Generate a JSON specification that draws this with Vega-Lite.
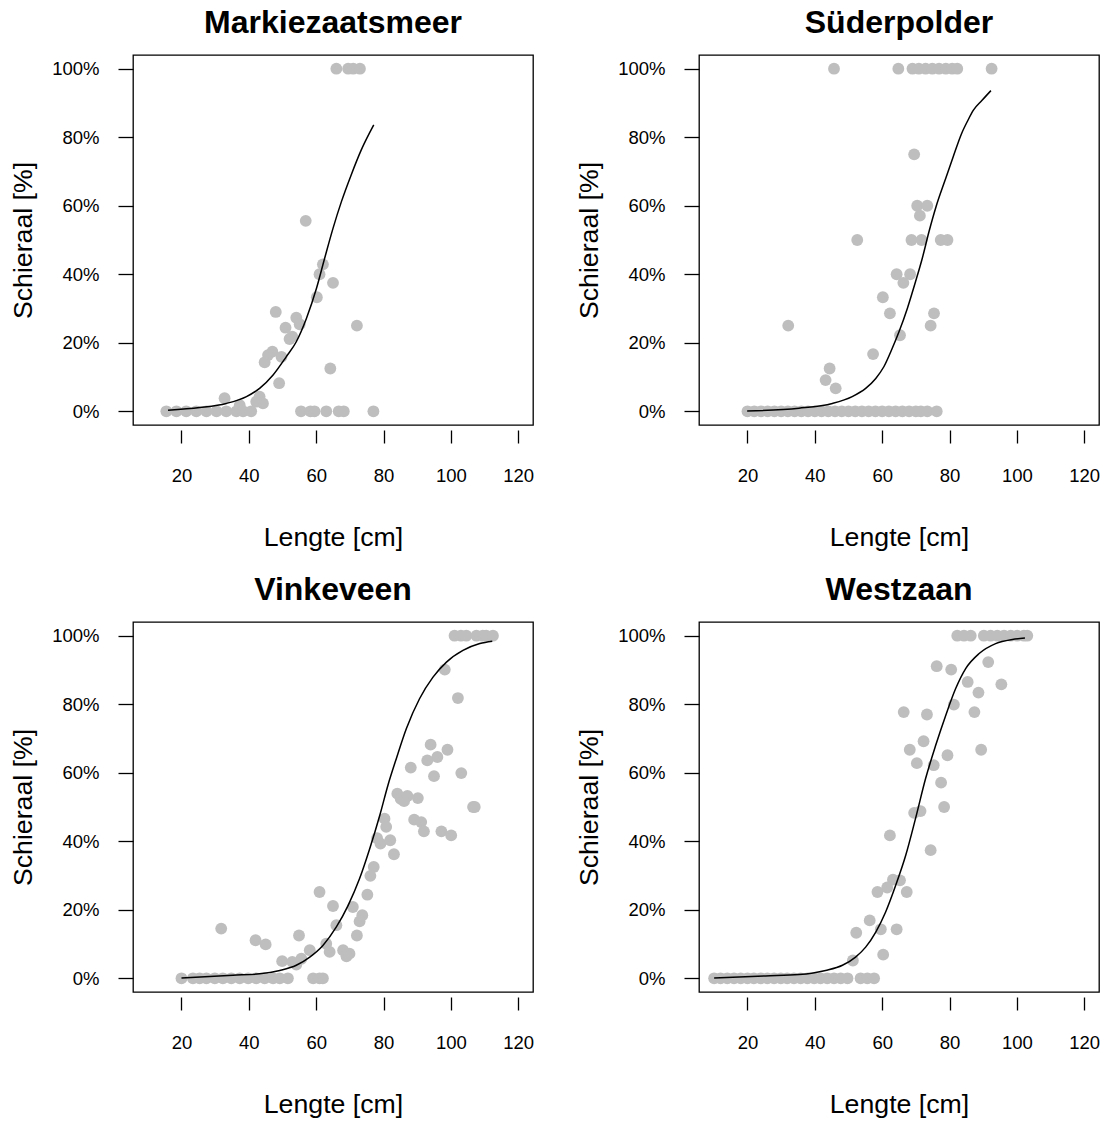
{
  "$schema": "https://vega.github.io/schema/vega-lite/v6.json",
  "background": "white",
  "padding": {"left": 10, "top": 6, "right": 0, "bottom": 0},
  "columns": 2,
  "spacing": {"row": 197, "column": 166},
  "bounds": "flush",
  "datasets": {
    "mk_obs": [
      {"len": 66, "pct": 100}, {"len": 69.5, "pct": 100}, {"len": 71, "pct": 100}, {"len": 73, "pct": 100},
      {"len": 56.9, "pct": 55.6}, {"len": 62, "pct": 42.9}, {"len": 61, "pct": 40}, {"len": 65, "pct": 37.5},
      {"len": 60.2, "pct": 33.3}, {"len": 48, "pct": 29}, {"len": 54.1, "pct": 27.3}, {"len": 55.1, "pct": 25.4},
      {"len": 50.9, "pct": 24.4}, {"len": 72.1, "pct": 25}, {"len": 52.1, "pct": 21.1}, {"len": 52.9, "pct": 21.8},
      {"len": 47, "pct": 17.4}, {"len": 45.7, "pct": 16.4}, {"len": 44.7, "pct": 14.3}, {"len": 49.7, "pct": 15.9},
      {"len": 64.2, "pct": 12.5}, {"len": 49, "pct": 8.2}, {"len": 32.8, "pct": 3.8}, {"len": 43.2, "pct": 4.3},
      {"len": 44.2, "pct": 2.3}, {"len": 42.2, "pct": 2.8}, {"len": 37.3, "pct": 1.8},
      {"len": 15.5, "pct": 0}, {"len": 18.5, "pct": 0}, {"len": 21.4, "pct": 0}, {"len": 24.4, "pct": 0},
      {"len": 27.4, "pct": 0}, {"len": 30.4, "pct": 0}, {"len": 33.3, "pct": 0}, {"len": 36.3, "pct": 0},
      {"len": 38.3, "pct": 0}, {"len": 40.7, "pct": 0}, {"len": 55.5, "pct": 0}, {"len": 58.3, "pct": 0},
      {"len": 59.5, "pct": 0}, {"len": 63, "pct": 0}, {"len": 66.7, "pct": 0}, {"len": 68.2, "pct": 0}, {"len": 77, "pct": 0}
    ],
    "mk_fit": [
      {"len": 16, "pct": 0.3}, {"len": 25.4, "pct": 1.1}, {"len": 33.3, "pct": 2.3}, {"len": 39.3, "pct": 4.3},
      {"len": 43.2, "pct": 6.7}, {"len": 47.2, "pct": 10.6}, {"len": 51.1, "pct": 15.9}, {"len": 54.1, "pct": 20.3},
      {"len": 57.1, "pct": 27.1}, {"len": 60.1, "pct": 35.9}, {"len": 62.5, "pct": 44.6}, {"len": 65, "pct": 53.4},
      {"len": 67.5, "pct": 61.2}, {"len": 70.4, "pct": 69}, {"len": 73.4, "pct": 76.3}, {"len": 77.1, "pct": 83.6}
    ],
    "sd_obs": [
      {"len": 45.7, "pct": 100}, {"len": 64.8, "pct": 100}, {"len": 69, "pct": 100}, {"len": 70.9, "pct": 100},
      {"len": 72.9, "pct": 100}, {"len": 74.9, "pct": 100}, {"len": 76.9, "pct": 100}, {"len": 78.9, "pct": 100},
      {"len": 80.8, "pct": 100}, {"len": 82.3, "pct": 100}, {"len": 92.5, "pct": 100},
      {"len": 69.5, "pct": 75}, {"len": 70.4, "pct": 60}, {"len": 73.4, "pct": 60}, {"len": 71.2, "pct": 57.1},
      {"len": 52.6, "pct": 50}, {"len": 68.7, "pct": 50}, {"len": 71.7, "pct": 50}, {"len": 77.4, "pct": 50},
      {"len": 79.4, "pct": 50}, {"len": 64.3, "pct": 40}, {"len": 68.3, "pct": 40}, {"len": 66.3, "pct": 37.5},
      {"len": 60.2, "pct": 33.3}, {"len": 62.3, "pct": 28.6}, {"len": 75.4, "pct": 28.6}, {"len": 74.4, "pct": 25},
      {"len": 32.1, "pct": 25}, {"len": 65.3, "pct": 22.2}, {"len": 57.3, "pct": 16.7}, {"len": 44.4, "pct": 12.5},
      {"len": 43.2, "pct": 9.1}, {"len": 46.2, "pct": 6.7},
      {"len": 20, "pct": 0}, {"len": 22, "pct": 0}, {"len": 24, "pct": 0}, {"len": 26, "pct": 0}, {"len": 28, "pct": 0},
      {"len": 30, "pct": 0}, {"len": 32, "pct": 0}, {"len": 34, "pct": 0}, {"len": 36, "pct": 0}, {"len": 38, "pct": 0},
      {"len": 40, "pct": 0}, {"len": 42, "pct": 0}, {"len": 44, "pct": 0}, {"len": 46, "pct": 0}, {"len": 48, "pct": 0},
      {"len": 50, "pct": 0}, {"len": 52, "pct": 0}, {"len": 54, "pct": 0}, {"len": 56, "pct": 0}, {"len": 58, "pct": 0},
      {"len": 60, "pct": 0}, {"len": 62, "pct": 0}, {"len": 64, "pct": 0}, {"len": 66, "pct": 0}, {"len": 68, "pct": 0},
      {"len": 70, "pct": 0}, {"len": 71.5, "pct": 0}, {"len": 73.4, "pct": 0}, {"len": 76.2, "pct": 0}
    ],
    "sd_fit": [
      {"len": 19.9, "pct": 0.1}, {"len": 35.3, "pct": 0.9}, {"len": 45.2, "pct": 2.3}, {"len": 51.1, "pct": 4.3},
      {"len": 55.1, "pct": 6.7}, {"len": 58.1, "pct": 9.6}, {"len": 60.5, "pct": 13}, {"len": 63, "pct": 18.4},
      {"len": 65, "pct": 23.2}, {"len": 67.5, "pct": 30.1}, {"len": 69.9, "pct": 37.8}, {"len": 71.9, "pct": 44.6},
      {"len": 73.9, "pct": 52.4}, {"len": 76, "pct": 59.7}, {"len": 78.7, "pct": 67.5}, {"len": 81.1, "pct": 74.3},
      {"len": 83.6, "pct": 81.1}, {"len": 85.4, "pct": 84.8}, {"len": 87.1, "pct": 87.9}, {"len": 89.6, "pct": 90.7},
      {"len": 92.3, "pct": 93.6}
    ],
    "vk_obs": [
      {"len": 101.1, "pct": 100}, {"len": 103, "pct": 100}, {"len": 104.6, "pct": 100}, {"len": 107.6, "pct": 100},
      {"len": 109.5, "pct": 100}, {"len": 110.5, "pct": 100}, {"len": 112.5, "pct": 100},
      {"len": 98.2, "pct": 90.1}, {"len": 102.1, "pct": 81.8}, {"len": 94, "pct": 68.2}, {"len": 99, "pct": 66.7},
      {"len": 96, "pct": 64.6}, {"len": 93, "pct": 63.6}, {"len": 88.1, "pct": 61.5}, {"len": 95, "pct": 59},
      {"len": 103.1, "pct": 59.9}, {"len": 84.1, "pct": 53.9}, {"len": 85.1, "pct": 52.4}, {"len": 87.1, "pct": 53.2},
      {"len": 90.2, "pct": 52.6}, {"len": 86.1, "pct": 51.7}, {"len": 106.6, "pct": 50}, {"len": 107.1, "pct": 50},
      {"len": 89.1, "pct": 46.3}, {"len": 91.2, "pct": 45.6}, {"len": 80.3, "pct": 46.6}, {"len": 80.8, "pct": 44.2},
      {"len": 92, "pct": 42.9}, {"len": 97.2, "pct": 42.9}, {"len": 100.1, "pct": 41.7}, {"len": 78.1, "pct": 40.9},
      {"len": 79.1, "pct": 39.3}, {"len": 82, "pct": 40.3}, {"len": 83.1, "pct": 36.2}, {"len": 77.1, "pct": 32.5},
      {"len": 76.1, "pct": 29.9}, {"len": 75.2, "pct": 24.4}, {"len": 61, "pct": 25.2}, {"len": 65, "pct": 21.1},
      {"len": 70.9, "pct": 20.8}, {"len": 73.7, "pct": 18.4}, {"len": 72.9, "pct": 16.6}, {"len": 66, "pct": 15.5},
      {"len": 72.1, "pct": 12.5}, {"len": 31.8, "pct": 14.5}, {"len": 54.9, "pct": 12.5}, {"len": 42, "pct": 11.1},
      {"len": 45, "pct": 9.9}, {"len": 63, "pct": 10.1}, {"len": 58.1, "pct": 8.2}, {"len": 64, "pct": 7.7},
      {"len": 68, "pct": 8.2}, {"len": 69.9, "pct": 7.2}, {"len": 69, "pct": 6.4}, {"len": 49.9, "pct": 5},
      {"len": 52.9, "pct": 4.8}, {"len": 55.6, "pct": 5.7}, {"len": 54.1, "pct": 4},
      {"len": 20, "pct": 0}, {"len": 23.4, "pct": 0}, {"len": 25.4, "pct": 0}, {"len": 27.4, "pct": 0},
      {"len": 29.9, "pct": 0}, {"len": 32.3, "pct": 0}, {"len": 34.8, "pct": 0}, {"len": 37.3, "pct": 0},
      {"len": 39.8, "pct": 0}, {"len": 42.2, "pct": 0}, {"len": 44.7, "pct": 0}, {"len": 47.2, "pct": 0},
      {"len": 49.2, "pct": 0}, {"len": 51.6, "pct": 0}, {"len": 59.1, "pct": 0}, {"len": 61, "pct": 0}, {"len": 62, "pct": 0}
    ],
    "vk_fit": [
      {"len": 20, "pct": 0.1}, {"len": 35.3, "pct": 0.9}, {"len": 43.2, "pct": 1.3}, {"len": 49.2, "pct": 2.3},
      {"len": 54.1, "pct": 3.8}, {"len": 58.1, "pct": 6.2}, {"len": 62, "pct": 9.6}, {"len": 66, "pct": 15},
      {"len": 69.5, "pct": 21.3}, {"len": 72.9, "pct": 29.1}, {"len": 75.9, "pct": 37.8}, {"len": 78.9, "pct": 47.6},
      {"len": 81.3, "pct": 56.3}, {"len": 83.8, "pct": 64.1}, {"len": 86.8, "pct": 72.9}, {"len": 90.7, "pct": 81.6},
      {"len": 94.7, "pct": 87.9}, {"len": 98.7, "pct": 92.3}, {"len": 103.6, "pct": 95.7}, {"len": 108.6, "pct": 97.7},
      {"len": 112.3, "pct": 98.4}
    ],
    "wz_obs": [
      {"len": 82.3, "pct": 100}, {"len": 84.3, "pct": 100}, {"len": 86.3, "pct": 100}, {"len": 90.2, "pct": 100},
      {"len": 92.2, "pct": 100}, {"len": 94.2, "pct": 100}, {"len": 96.2, "pct": 100}, {"len": 98.2, "pct": 100},
      {"len": 100.1, "pct": 100}, {"len": 102.1, "pct": 100}, {"len": 103.1, "pct": 100},
      {"len": 76.2, "pct": 91.1}, {"len": 80.5, "pct": 90.1}, {"len": 91.5, "pct": 92.3}, {"len": 85.4, "pct": 86.5},
      {"len": 95.4, "pct": 85.8}, {"len": 88.6, "pct": 83.4}, {"len": 81.3, "pct": 79.9}, {"len": 87.4, "pct": 77.7},
      {"len": 66.4, "pct": 77.7}, {"len": 73.3, "pct": 77}, {"len": 72.3, "pct": 69.2}, {"len": 68.2, "pct": 66.7},
      {"len": 89.4, "pct": 66.7}, {"len": 79.4, "pct": 65.1}, {"len": 70.3, "pct": 62.8}, {"len": 75.3, "pct": 62.2},
      {"len": 77.5, "pct": 57.1}, {"len": 78.4, "pct": 50}, {"len": 69.5, "pct": 48.3}, {"len": 71.4, "pct": 48.8},
      {"len": 62.3, "pct": 41.7}, {"len": 74.4, "pct": 37.4}, {"len": 63.2, "pct": 28.8}, {"len": 65.3, "pct": 28.6},
      {"len": 61.5, "pct": 26.5}, {"len": 58.6, "pct": 25.2}, {"len": 67.3, "pct": 25.2}, {"len": 56.3, "pct": 16.9},
      {"len": 52.3, "pct": 13.3}, {"len": 59.6, "pct": 14.3}, {"len": 64.3, "pct": 14.3}, {"len": 60.3, "pct": 6.9},
      {"len": 51.3, "pct": 5.2},
      {"len": 10.1, "pct": 0}, {"len": 12, "pct": 0}, {"len": 14, "pct": 0}, {"len": 16, "pct": 0}, {"len": 18, "pct": 0},
      {"len": 20, "pct": 0}, {"len": 21.9, "pct": 0}, {"len": 23.9, "pct": 0}, {"len": 25.9, "pct": 0}, {"len": 27.9, "pct": 0},
      {"len": 29.9, "pct": 0}, {"len": 31.8, "pct": 0}, {"len": 33.8, "pct": 0}, {"len": 35.8, "pct": 0}, {"len": 37.8, "pct": 0},
      {"len": 39.8, "pct": 0}, {"len": 41.7, "pct": 0}, {"len": 43.7, "pct": 0}, {"len": 45.7, "pct": 0}, {"len": 47.7, "pct": 0},
      {"len": 49.7, "pct": 0}, {"len": 53.6, "pct": 0}, {"len": 55.6, "pct": 0}, {"len": 57.6, "pct": 0}
    ],
    "wz_fit": [
      {"len": 10.1, "pct": 0.1}, {"len": 25.4, "pct": 0.7}, {"len": 35.3, "pct": 1.1}, {"len": 43.2, "pct": 2.3},
      {"len": 48.2, "pct": 3.8}, {"len": 52.1, "pct": 6.2}, {"len": 55.1, "pct": 9.1}, {"len": 58.1, "pct": 13.5},
      {"len": 61, "pct": 19.3}, {"len": 64, "pct": 27.1}, {"len": 67, "pct": 35.9}, {"len": 69.9, "pct": 46.6},
      {"len": 72.9, "pct": 58.3}, {"len": 75.9, "pct": 68}, {"len": 78.9, "pct": 76.8}, {"len": 81.8, "pct": 84.5},
      {"len": 84.8, "pct": 90.4}, {"len": 88.8, "pct": 94.8}, {"len": 93.7, "pct": 97.7}, {"len": 98.7, "pct": 98.9},
      {"len": 102.4, "pct": 99.3}
    ]
  },
  "concat": [
    {
      "title": "Markiezaatsmeer",
      "width": 400, "height": 370,
      "layer": [
        {"data": {"name": "mk_obs"}, "mark": {"type": "circle", "size": 140, "color": "#bebebe", "opacity": 1},
         "encoding": {
           "x": {"field": "len", "type": "quantitative", "scale": {"domain": [5.6, 124.4], "nice": false, "zero": false}, "axis": {"values": [20, 40, 60, 80, 100, 120], "title": "Lengte [cm]"}},
           "y": {"field": "pct", "type": "quantitative", "scale": {"domain": [-4, 104], "nice": false, "zero": false}, "axis": {"values": [0, 20, 40, 60, 80, 100], "labelExpr": "datum.value + '%'", "title": "Schieraal [%]"}}}},
        {"data": {"name": "mk_fit"}, "mark": {"type": "line", "color": "black", "strokeWidth": 1.5, "interpolate": "monotone"},
         "encoding": {"x": {"field": "len", "type": "quantitative"}, "y": {"field": "pct", "type": "quantitative"}}}
      ]
    },
    {
      "title": "Süderpolder",
      "width": 400, "height": 370,
      "layer": [
        {"data": {"name": "sd_obs"}, "mark": {"type": "circle", "size": 140, "color": "#bebebe", "opacity": 1},
         "encoding": {
           "x": {"field": "len", "type": "quantitative", "scale": {"domain": [5.6, 124.4], "nice": false, "zero": false}, "axis": {"values": [20, 40, 60, 80, 100, 120], "title": "Lengte [cm]"}},
           "y": {"field": "pct", "type": "quantitative", "scale": {"domain": [-4, 104], "nice": false, "zero": false}, "axis": {"values": [0, 20, 40, 60, 80, 100], "labelExpr": "datum.value + '%'", "title": "Schieraal [%]"}}}},
        {"data": {"name": "sd_fit"}, "mark": {"type": "line", "color": "black", "strokeWidth": 1.5, "interpolate": "monotone"},
         "encoding": {"x": {"field": "len", "type": "quantitative"}, "y": {"field": "pct", "type": "quantitative"}}}
      ]
    },
    {
      "title": "Vinkeveen",
      "width": 400, "height": 370,
      "layer": [
        {"data": {"name": "vk_obs"}, "mark": {"type": "circle", "size": 140, "color": "#bebebe", "opacity": 1},
         "encoding": {
           "x": {"field": "len", "type": "quantitative", "scale": {"domain": [5.6, 124.4], "nice": false, "zero": false}, "axis": {"values": [20, 40, 60, 80, 100, 120], "title": "Lengte [cm]"}},
           "y": {"field": "pct", "type": "quantitative", "scale": {"domain": [-4, 104], "nice": false, "zero": false}, "axis": {"values": [0, 20, 40, 60, 80, 100], "labelExpr": "datum.value + '%'", "title": "Schieraal [%]"}}}},
        {"data": {"name": "vk_fit"}, "mark": {"type": "line", "color": "black", "strokeWidth": 1.5, "interpolate": "monotone"},
         "encoding": {"x": {"field": "len", "type": "quantitative"}, "y": {"field": "pct", "type": "quantitative"}}}
      ]
    },
    {
      "title": "Westzaan",
      "width": 400, "height": 370,
      "layer": [
        {"data": {"name": "wz_obs"}, "mark": {"type": "circle", "size": 140, "color": "#bebebe", "opacity": 1},
         "encoding": {
           "x": {"field": "len", "type": "quantitative", "scale": {"domain": [5.6, 124.4], "nice": false, "zero": false}, "axis": {"values": [20, 40, 60, 80, 100, 120], "title": "Lengte [cm]"}},
           "y": {"field": "pct", "type": "quantitative", "scale": {"domain": [-4, 104], "nice": false, "zero": false}, "axis": {"values": [0, 20, 40, 60, 80, 100], "labelExpr": "datum.value + '%'", "title": "Schieraal [%]"}}}},
        {"data": {"name": "wz_fit"}, "mark": {"type": "line", "color": "black", "strokeWidth": 1.5, "interpolate": "monotone"},
         "encoding": {"x": {"field": "len", "type": "quantitative"}, "y": {"field": "pct", "type": "quantitative"}}}
      ]
    }
  ],
  "config": {
    "font": "Liberation Sans",
    "view": {"stroke": "black", "strokeWidth": 1.3},
    "axis": {
      "grid": false, "domain": false, "tickColor": "black", "tickWidth": 1.3,
      "labelColor": "black", "titleColor": "black",
      "labelFont": "Liberation Sans", "titleFont": "Liberation Sans",
      "labelFontSize": 18.5, "titleFontSize": 26.7, "titleFontWeight": "normal"
    },
    "axisX": {"offset": 5, "tickSize": 13, "labelPadding": 23, "titlePadding": 40},
    "axisY": {"tickSize": 15, "labelPadding": 19, "titlePadding": 14},
    "title": {"font": "Liberation Sans", "fontSize": 32, "fontWeight": "bold", "color": "black", "offset": 15}
  }
}
